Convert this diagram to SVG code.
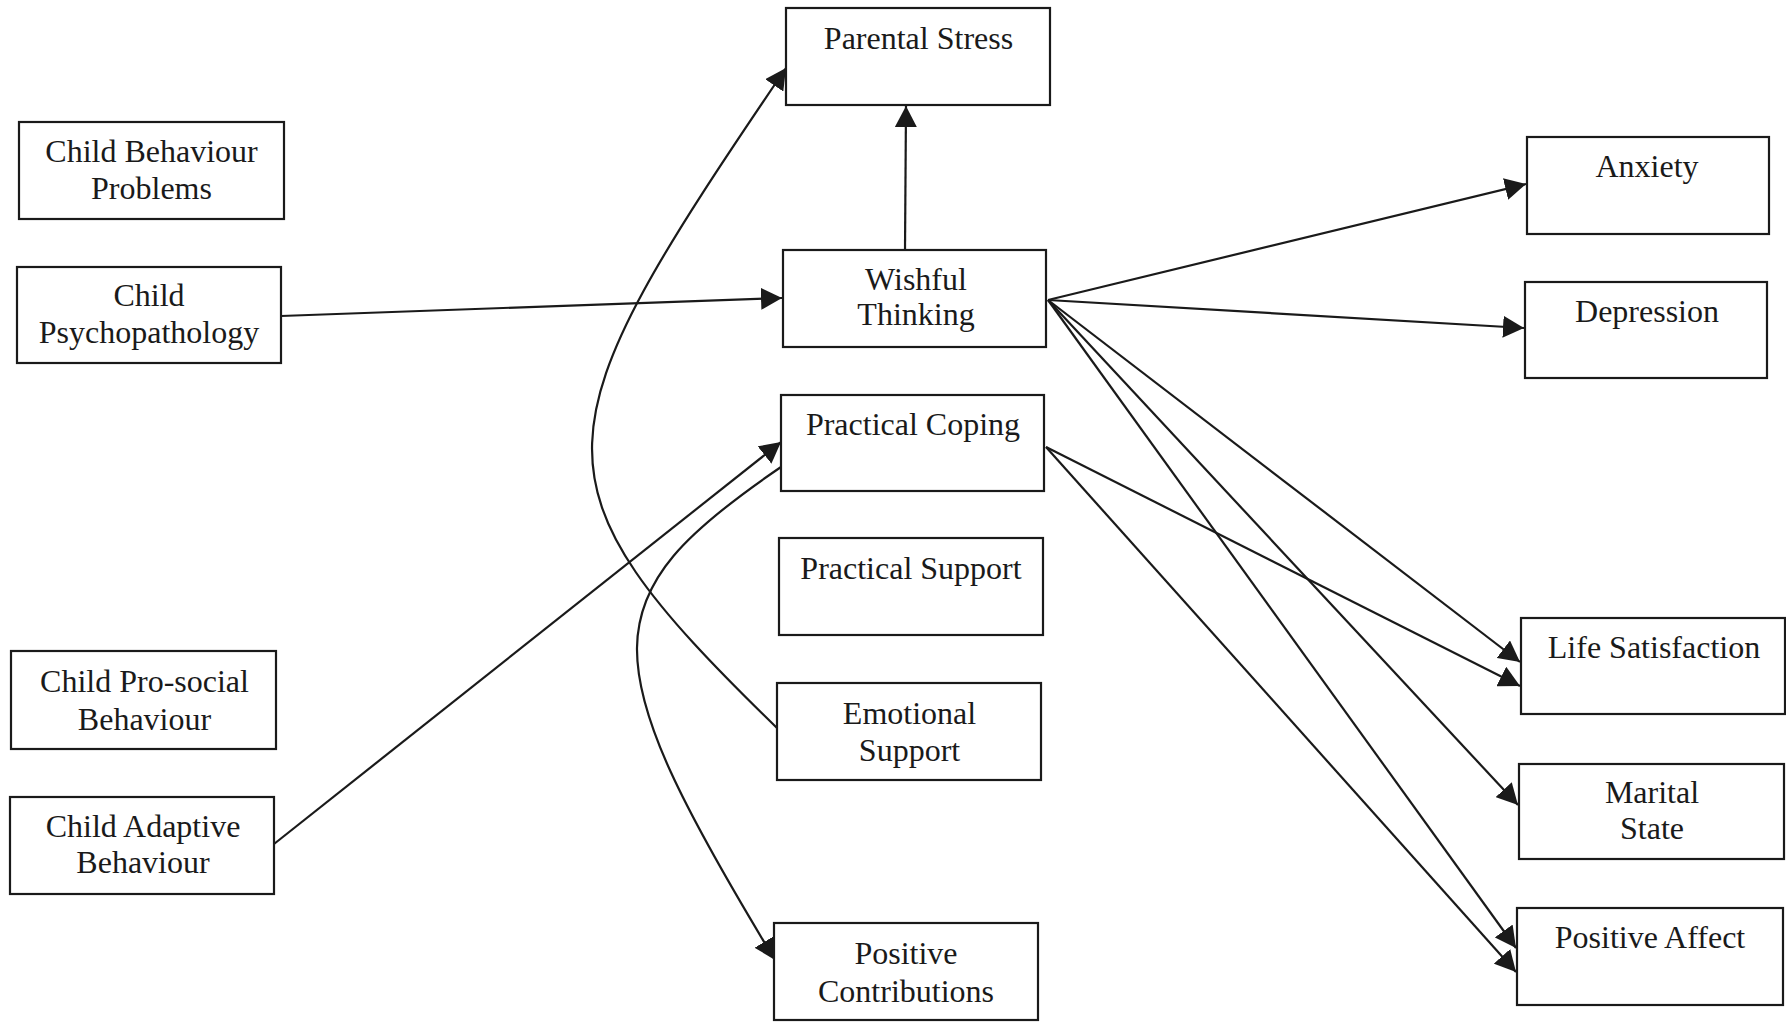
<svg xmlns="http://www.w3.org/2000/svg" width="1786" height="1023" viewBox="0 0 1786 1023">
  <style>
    .box { fill: #ffffff; stroke: #1a1a1a; stroke-width: 2.2; }
    .lbl { font-family: "Liberation Serif", "Times New Roman", serif; font-size: 32px; fill: #1a1a1a; text-anchor: middle; }
    .edge { fill: none; stroke: #1a1a1a; stroke-width: 2.2; marker-end: url(#arrow); }
  </style>
  <defs>
    <marker id="arrow" markerUnits="userSpaceOnUse" markerWidth="22" markerHeight="22" refX="21" refY="11" orient="auto">
      <path d="M0,0 L21,11 L0,22 z" fill="#1a1a1a"/>
    </marker>
  </defs>
  <rect width="1786" height="1023" fill="#ffffff"/>

  <!-- connectors -->
  <g id="connectors">
    <path class="edge" d="M281,316 L782,298"/>
    <path class="edge" d="M905,250 L906,106"/>
    <path class="edge" d="M1048,300 L1526,184"/>
    <path class="edge" d="M1048,300 L1524,328"/>
    <path class="edge" d="M1048,300 L1520,662"/>
    <path class="edge" d="M1048,300 L1518,805"/>
    <path class="edge" d="M1048,300 L1516,948"/>
    <path class="edge" d="M1046,447 L1520,686"/>
    <path class="edge" d="M1046,447 L1516,972"/>
    <path class="edge" d="M274,844 L781,442"/>
    <path class="edge" d="M777,728 C522,480 536,436 786,68"/>
    <path class="edge" d="M781,467 C590,597 590,655 775,960"/>
  </g>

  <!-- left column: child characteristics -->
  <g id="child-behaviour-problems">
    <rect class="box" x="19" y="122" width="265" height="97"/>
    <text class="lbl" x="151.5" y="162">Child Behaviour</text>
    <text class="lbl" x="151.5" y="199">Problems</text>
  </g>
  <g id="child-psychopathology">
    <rect class="box" x="17" y="267" width="264" height="96"/>
    <text class="lbl" x="149" y="306">Child</text>
    <text class="lbl" x="149" y="343">Psychopathology</text>
  </g>
  <g id="child-prosocial-behaviour">
    <rect class="box" x="11" y="651" width="265" height="98"/>
    <text class="lbl" x="144.5" y="692">Child Pro-social</text>
    <text class="lbl" x="144.5" y="730">Behaviour</text>
  </g>
  <g id="child-adaptive-behaviour">
    <rect class="box" x="10" y="797" width="264" height="97"/>
    <text class="lbl" x="143" y="837">Child Adaptive</text>
    <text class="lbl" x="143" y="873">Behaviour</text>
  </g>

  <!-- middle column: stress, coping and support -->
  <g id="parental-stress">
    <rect class="box" x="786" y="8" width="264" height="97"/>
    <text class="lbl" x="918.5" y="49">Parental Stress</text>
  </g>
  <g id="wishful-thinking">
    <rect class="box" x="783" y="250" width="263" height="97"/>
    <text class="lbl" x="916" y="290">Wishful</text>
    <text class="lbl" x="916" y="325">Thinking</text>
  </g>
  <g id="practical-coping">
    <rect class="box" x="781" y="395" width="263" height="96"/>
    <text class="lbl" x="913" y="435">Practical Coping</text>
  </g>
  <g id="practical-support">
    <rect class="box" x="779" y="538" width="264" height="97"/>
    <text class="lbl" x="911" y="579">Practical Support</text>
  </g>
  <g id="emotional-support">
    <rect class="box" x="777" y="683" width="264" height="97"/>
    <text class="lbl" x="909.5" y="724">Emotional</text>
    <text class="lbl" x="909.5" y="761">Support</text>
  </g>
  <g id="positive-contributions">
    <rect class="box" x="774" y="923" width="264" height="97"/>
    <text class="lbl" x="906" y="964">Positive</text>
    <text class="lbl" x="906" y="1002">Contributions</text>
  </g>

  <!-- right column: outcomes -->
  <g id="anxiety">
    <rect class="box" x="1527" y="137" width="242" height="97"/>
    <text class="lbl" x="1647" y="177">Anxiety</text>
  </g>
  <g id="depression">
    <rect class="box" x="1525" y="282" width="242" height="96"/>
    <text class="lbl" x="1647" y="322">Depression</text>
  </g>
  <g id="life-satisfaction">
    <rect class="box" x="1521" y="618" width="264" height="96"/>
    <text class="lbl" x="1654" y="658">Life Satisfaction</text>
  </g>
  <g id="marital-state">
    <rect class="box" x="1519" y="764" width="265" height="95"/>
    <text class="lbl" x="1652" y="803">Marital</text>
    <text class="lbl" x="1652" y="839">State</text>
  </g>
  <g id="positive-affect">
    <rect class="box" x="1517" y="908" width="266" height="97"/>
    <text class="lbl" x="1650" y="947.5">Positive Affect</text>
  </g>
</svg>
